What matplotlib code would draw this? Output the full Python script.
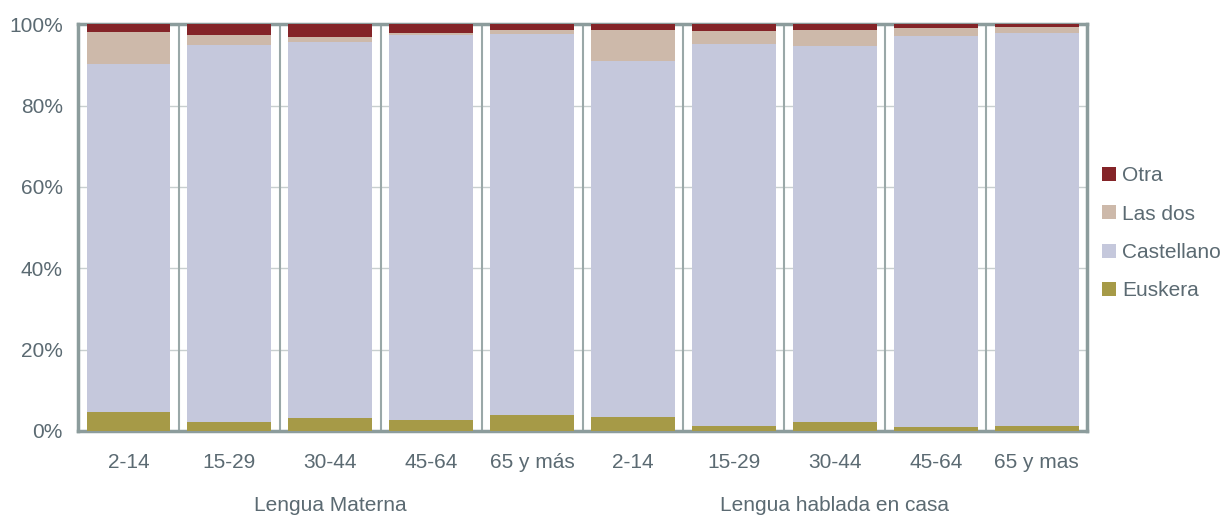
import matplotlib
matplotlib.use("Agg")
import matplotlib.pyplot as plt
import numpy as np
from matplotlib.patches import Patch

categories = ["2-14", "15-29", "30-44", "45-64", "65 y más",
              "2-14", "15-29", "30-44", "45-64", "65 y mas"]
groups = ["Lengua Materna", "Lengua hablada en casa"]
euskera = [4.7, 2.2, 3.2, 2.7, 3.9, 3.4, 1.2, 2.2, 1.0, 1.2]
castellano = [85.5, 92.6, 92.4, 94.6, 93.6, 87.5, 93.9, 92.4, 96.1, 96.6]
las_dos = [7.8, 2.5, 1.2, 0.5, 1.0, 7.6, 3.2, 3.9, 1.9, 1.5]
otra = [2.0, 2.7, 3.2, 2.2, 1.5, 1.5, 1.7, 1.5, 1.0, 0.7]

series = [("Euskera", euskera, "#a69a47"),
          ("Castellano", castellano, "#c5c8dc"),
          ("Las dos", las_dos, "#cdb9aa"),
          ("Otra", otra, "#842428")]

plt.rcParams['font.family'] = ['Liberation Sans', 'DejaVu Sans']
text_color = "#5b6a72"
frame_color = "#8c9c9c"
fs = 15

fig = plt.figure(figsize=(12.24, 5.16), dpi=100)
ax = fig.add_axes([0.0637, 0.165, 0.8245, 0.788])

x = np.arange(len(categories))
bottom = np.zeros(len(categories))
for name, vals, col in series:
    v = np.array(vals, dtype=float)
    ax.bar(x, v, bottom=bottom, width=0.83, color=col, label=name, zorder=3)
    bottom += v

ax.set_xlim(-0.5, len(categories) - 0.5)
ax.set_ylim(0, 100)
ax.set_yticks([0, 20, 40, 60, 80, 100])
ax.set_yticklabels([f"{v}%" for v in [0, 20, 40, 60, 80, 100]])
ax.set_xticks(x)
ax.set_xticklabels(categories)
ax.tick_params(axis='both', length=0, labelsize=fs, colors=text_color)
ax.tick_params(axis='y', pad=11)
ax.tick_params(axis='x', pad=16)

for yv in [20, 40, 60, 80]:
    ax.axhline(yv, color="#c8cfcf", lw=1, zorder=1)
for xv in np.arange(0.5, len(categories) - 0.5, 1):
    ax.axvline(xv, color="#9aa8a8", lw=1.5, zorder=1)

for s in ax.spines.values():
    s.set_color(frame_color)
    s.set_linewidth(2.5)

for gi, g in enumerate(groups):
    ax.text(gi * 5 + 2, -0.184, g, transform=ax.get_xaxis_transform(),
            ha='center', va='center', fontsize=fs, color=text_color)

handles = [Patch(facecolor=col, label=name) for name, _, col in reversed(series)]
leg = fig.legend(handles=handles, loc='center left', bbox_to_anchor=(0.9005, 0.548),
                 frameon=False, fontsize=fs, handlelength=0.65, handleheight=0.65,
                 handletextpad=0.3, labelspacing=0.93, borderpad=0, borderaxespad=0)
for t in leg.get_texts():
    t.set_color(text_color)

fig.savefig("out.png", dpi=100)
